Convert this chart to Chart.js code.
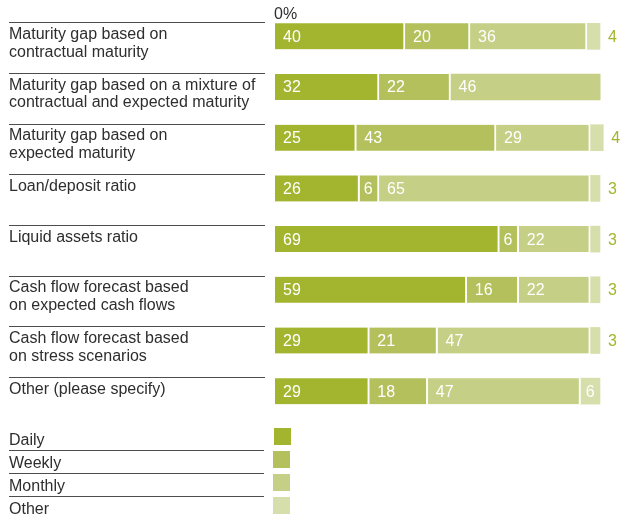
<!DOCTYPE html>
<html>
<head>
<meta charset="utf-8">
<script src="https://cdn.jsdelivr.net/npm/chart.js@4/dist/chart.umd.min.js"></script>
<style>
  html, body { margin: 0; padding: 0; background: #fff; }
  #wrap { width: 622px; height: 517px; }
</style>
</head>
<body>
<div id="wrap"><canvas id="myChart" width="622" height="517"></canvas></div>
<script>
const categories = [
    ['Maturity gap based on', 'contractual maturity'],
    ['Maturity gap based on a mixture of', 'contractual and expected maturity'],
    ['Maturity gap based on', 'expected maturity'],
    ['Loan/deposit ratio'],
    ['Liquid assets ratio'],
    ['Cash flow forecast based', 'on expected cash flows'],
    ['Cash flow forecast based', 'on stress scenarios'],
    ['Other (please specify)']
];
const seriesNames = ['Daily', 'Weekly', 'Monthly', 'Other'];
const daily   = [40, 32, 25, 26, 69, 59, 29, 29];
const weekly  = [20, 22, 43,  6,  6, 16, 21, 18];
const monthly = [36, 46, 29, 65, 22, 22, 47, 47];
const other   = [ 4,  0,  4,  3,  3,  3,  3,  6];
const axisLabel = '0%';

const colors = ['#a3b52e', '#b3c05b', '#c5cf85', '#d6dfab'];
const FONT = '"Liberation Sans", Arial, sans-serif';
const TEXT = '#2e2e2e';
const RULE = '#4d4d4d';

const seriesData = [daily, weekly, monthly, other];

// is there anything stacked after this segment?
function hasNext(di, i) {
    for (let k = di + 1; k < seriesData.length; k++) {
        if (seriesData[k][i]) return true;
    }
    return false;
}

// category names on the left, each with a rule above it, plus the 0% mark
const sideLabels = {
    id: 'sideLabels',
    afterDraw(chart) {
        const {ctx} = chart;
        const meta = chart.getDatasetMeta(0);
        ctx.save();
        ctx.font = '16px ' + FONT;
        ctx.textAlign = 'left';
        ctx.textBaseline = 'alphabetic';
        meta.data.forEach((bar, i) => {
            const top = bar.y - bar.height / 2;
            const lineY = Math.round(top) - 0.5;
            ctx.strokeStyle = RULE;
            ctx.lineWidth = 1;
            ctx.beginPath();
            ctx.moveTo(9, lineY);
            ctx.lineTo(265, lineY);
            ctx.stroke();
            ctx.fillStyle = TEXT;
            categories[i].forEach((line, k) => {
                ctx.fillText(line, 9, top + 15.5 + k * 17.8);
            });
        });
        ctx.fillText(axisLabel, chart.scales.x.getPixelForValue(0) - 1, 18.5);
        ctx.restore();
    }
};

// numbers on the segments; thin end segments get theirs outside the bar
const valueLabels = {
    id: 'valueLabels',
    afterDatasetsDraw(chart) {
        const {ctx} = chart;
        ctx.save();
        ctx.font = '16px ' + FONT;
        ctx.textBaseline = 'middle';
        chart.data.datasets.forEach((ds, di) => {
            const meta = chart.getDatasetMeta(di);
            meta.data.forEach((bar, i) => {
                const v = ds.data[i];
                if (!v) return;
                const start = Math.min(bar.base, bar.x);
                const end = Math.max(bar.base, bar.x);
                const w = end - start;
                if (di === 3 && v <= 4) {
                    ctx.fillStyle = colors[0];
                    ctx.textAlign = 'left';
                    ctx.fillText(String(v), end + 8, bar.y + 1);
                } else if (w < 25) {
                    ctx.fillStyle = '#ffffff';
                    ctx.textAlign = 'center';
                    const gap = hasNext(di, i) ? 2 : 0;
                    ctx.fillText(String(v), start + (w - gap) / 2, bar.y + 1);
                } else {
                    ctx.fillStyle = '#ffffff';
                    ctx.textAlign = 'left';
                    ctx.fillText(String(v), start + 8, bar.y + 1);
                }
            });
        });
        ctx.restore();
    }
};

// legend list at the bottom: name, rule between rows, swatch on the right
const listLegend = {
    id: 'listLegend',
    afterDraw(chart) {
        const {ctx} = chart;
        ctx.save();
        ctx.font = '16px ' + FONT;
        ctx.textAlign = 'left';
        ctx.textBaseline = 'alphabetic';
        chart.data.datasets.forEach((ds, i) => {
            const base = 445 + i * 23;
            ctx.fillStyle = TEXT;
            ctx.fillText(ds.label, 9, base);
            ctx.fillStyle = ds.backgroundColor;
            ctx.fillRect(i === 0 ? 274 : 273, base - 17, 17, 17);
            if (i < chart.data.datasets.length - 1) {
                ctx.strokeStyle = RULE;
                ctx.lineWidth = 1;
                ctx.beginPath();
                ctx.moveTo(9, base + 5.5);
                ctx.lineTo(264, base + 5.5);
                ctx.stroke();
            }
        });
        ctx.restore();
    }
};

const data = {
    labels: categories,
    datasets: seriesNames.map((name, i) => ({
        label: name,
        data: seriesData[i],
        backgroundColor: colors[i],
        borderColor: '#ffffff',
        // white gap only between segments, not at the end of a bar
        borderWidth: (c) => ({
            left: 0, top: 0, bottom: 0,
            right: hasNext(c.datasetIndex, c.dataIndex) ? 2 : 0
        }),
        borderSkipped: false,
        barThickness: 26,
        clip: false
    }))
};

const config = {
    type: 'bar',
    data,
    plugins: [sideLabels, valueLabels, listLegend],
    options: {
        indexAxis: 'y',
        responsive: false,
        animation: false,
        layout: {
            padding: {left: 275, right: 22, top: 11, bottom: 100.5}
        },
        scales: {
            x: {stacked: true, min: 0, max: 100, display: false},
            y: {stacked: true, display: false}
        },
        plugins: {
            legend: {display: false},
            tooltip: {enabled: false}
        }
    }
};

const myChart = new Chart(document.getElementById('myChart'), config);
</script>
</body>
</html>
